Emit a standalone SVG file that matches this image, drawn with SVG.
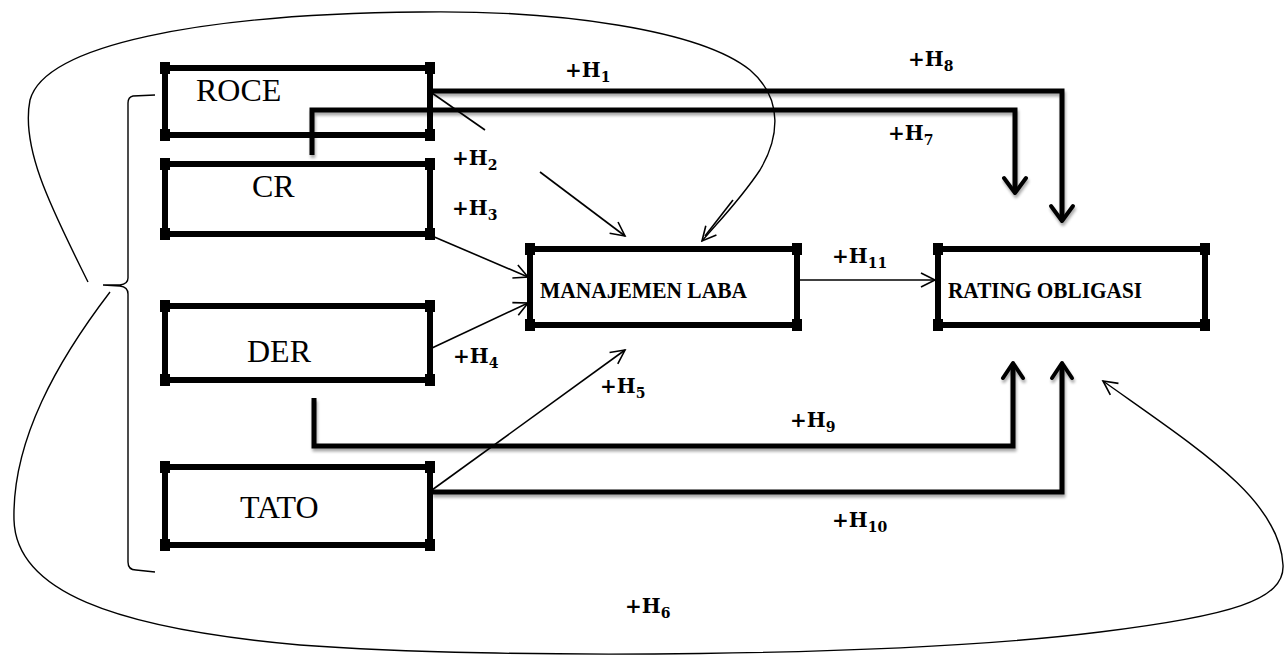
<svg xmlns="http://www.w3.org/2000/svg" width="1287" height="655" viewBox="0 0 1287 655">
<defs>
<style>
.box{fill:none;stroke:#000;stroke-width:6}
.post{fill:#000}
.name{font-family:"Liberation Serif",serif;font-size:32px;fill:#000}
.bname{font-family:"Liberation Serif",serif;font-size:24px;font-weight:bold;fill:#000}
.lbl{font-family:"DejaVu Serif","Liberation Serif",serif;font-size:20px;font-weight:bold;fill:#000}
.sub{font-size:14px}
.thick{fill:none;stroke:#000;stroke-width:5;stroke-linejoin:miter}
.thin{fill:none;stroke:#000;stroke-width:1.6}
.curve{fill:none;stroke:#000;stroke-width:1.4}
.head{fill:none;stroke:#000;stroke-width:4;stroke-linecap:round;stroke-linejoin:round}
</style>
<marker id="ah" markerUnits="userSpaceOnUse" markerWidth="18" markerHeight="18" viewBox="0 0 18 18" refX="16" refY="9" orient="auto">
<path d="M2,2 L16,9 L2,16" fill="none" stroke="#000" stroke-width="1.6"/>
</marker>
<filter id="sh" x="-5%" y="-20%" width="110%" height="160%">
<feGaussianBlur in="SourceAlpha" stdDeviation="1.5"/>
<feOffset dx="1" dy="3" result="b"/>
<feComponentTransfer><feFuncA type="linear" slope="0.35"/></feComponentTransfer>
<feMerge><feMergeNode/><feMergeNode in="SourceGraphic"/></feMerge>
</filter>
</defs>
<rect width="1287" height="655" fill="#fff"/>

<g id="connectors">
<!-- brace -->
<path class="curve" d="M155,95 L133,96 Q128,97 128,103 L128,278 Q128,284 120,285 L103,285 L120,286 Q128,287 128,294 L128,562 Q128,570 136,570 L155,572"/>
<!-- H6 big loop, top part to MANAJEMEN LABA -->
<path class="curve" marker-end="url(#ah)" d="M88,282 C55,215 20,150 30,100 C45,45 200,14 420,12 C560,10 700,30 750,70 C785,100 778,140 760,170 C740,200 720,220 702,241"/>
<path class="thin" d="M705,236 L733,200"/>
<!-- H6 big loop, bottom part to RATING OBLIGASI -->
<path class="curve" marker-end="url(#ah)" d="M110,292 C58,360 12,440 14,520 C16,590 110,628 300,645 C500,660 900,657 1100,632 C1230,616 1285,600 1283,565 C1280,500 1200,450 1103,381"/>
<!-- thin arrows -->
<path class="thin" d="M432,93 L485,130"/>
<path class="thin" marker-end="url(#ah)" d="M540,172 L625,236"/>
<path class="thin" marker-end="url(#ah)" d="M432,236 L528,277"/>
<path class="thin" marker-end="url(#ah)" d="M432,348 L528,303"/>
<path class="thin" marker-end="url(#ah)" d="M432,490 L625,350"/>
<path class="thin" marker-end="url(#ah)" d="M797,280 L935,280"/>
<!-- thick elbow connectors -->
<g filter="url(#sh)">
<path class="thick" d="M430,91 H1062 V219"/>
<path class="head" d="M1051,206 L1062,221 L1073,206"/>
<path class="thick" d="M312,155 V110 H1015 V191"/>
<path class="head" d="M1004,178 L1015,193 L1026,178"/>
<path class="thick" d="M314,398 V446 H1013 V366"/>
<path class="head" d="M1003,378 L1013,363 L1023,378"/>
<path class="thick" d="M432,492 H1062 V366"/>
<path class="head" d="M1052,378 L1062,363 L1072,378"/>
</g>
</g>

<g id="node-roce">
<rect class="box" x="165" y="68" width="265" height="67"/>
<rect class="post" x="160" y="62" width="10" height="12"/><rect class="post" x="425" y="62" width="10" height="12"/>
<rect class="post" x="160" y="129" width="10" height="12"/><rect class="post" x="425" y="129" width="10" height="12"/>
<text class="name" x="196" y="101">ROCE</text>
</g>
<g id="node-cr">
<rect class="box" x="165" y="164" width="265" height="70"/>
<rect class="post" x="160" y="158" width="10" height="12"/><rect class="post" x="425" y="158" width="10" height="12"/>
<rect class="post" x="160" y="228" width="10" height="12"/><rect class="post" x="425" y="228" width="10" height="12"/>
<text class="name" x="252" y="197">CR</text>
</g>
<g id="node-der">
<rect class="box" x="165" y="306" width="265" height="74"/>
<rect class="post" x="160" y="300" width="10" height="12"/><rect class="post" x="425" y="300" width="10" height="12"/>
<rect class="post" x="160" y="374" width="10" height="12"/><rect class="post" x="425" y="374" width="10" height="12"/>
<text class="name" x="247" y="362">DER</text>
</g>
<g id="node-tato">
<rect class="box" x="165" y="467" width="265" height="78"/>
<rect class="post" x="160" y="461" width="10" height="12"/><rect class="post" x="425" y="461" width="10" height="12"/>
<rect class="post" x="160" y="539" width="10" height="12"/><rect class="post" x="425" y="539" width="10" height="12"/>
<text class="name" x="240" y="518">TATO</text>
</g>
<g id="node-manajemen">
<rect class="box" x="530" y="249" width="267" height="76"/>
<rect class="post" x="525" y="243" width="10" height="12"/><rect class="post" x="792" y="243" width="10" height="12"/>
<rect class="post" x="525" y="319" width="10" height="12"/><rect class="post" x="792" y="319" width="10" height="12"/>
<text class="bname" x="540" y="298" textLength="207" lengthAdjust="spacingAndGlyphs">MANAJEMEN LABA</text>
</g>
<g id="node-rating">
<rect class="box" x="938" y="249" width="267" height="76"/>
<rect class="post" x="933" y="243" width="10" height="12"/><rect class="post" x="1200" y="243" width="10" height="12"/>
<rect class="post" x="933" y="319" width="10" height="12"/><rect class="post" x="1200" y="319" width="10" height="12"/>
<text class="bname" x="948" y="298" textLength="194" lengthAdjust="spacingAndGlyphs">RATING OBLIGASI</text>
</g>

<g id="labels">
<text class="lbl" x="565" y="77">+H<tspan class="sub" dy="5">1</tspan></text>
<text class="lbl" x="452" y="165">+H<tspan class="sub" dy="5">2</tspan></text>
<text class="lbl" x="452" y="215">+H<tspan class="sub" dy="5">3</tspan></text>
<text class="lbl" x="453" y="363">+H<tspan class="sub" dy="5">4</tspan></text>
<text class="lbl" x="600" y="393">+H<tspan class="sub" dy="5">5</tspan></text>
<text class="lbl" x="625" y="613">+H<tspan class="sub" dy="5">6</tspan></text>
<text class="lbl" x="888" y="140">+H<tspan class="sub" dy="5">7</tspan></text>
<text class="lbl" x="908" y="66">+H<tspan class="sub" dy="5">8</tspan></text>
<text class="lbl" x="790" y="427">+H<tspan class="sub" dy="5">9</tspan></text>
<text class="lbl" x="832" y="527">+H<tspan class="sub" dy="5">10</tspan></text>
<text class="lbl" x="832" y="263">+H<tspan class="sub" dy="5">11</tspan></text>
</g>
</svg>
